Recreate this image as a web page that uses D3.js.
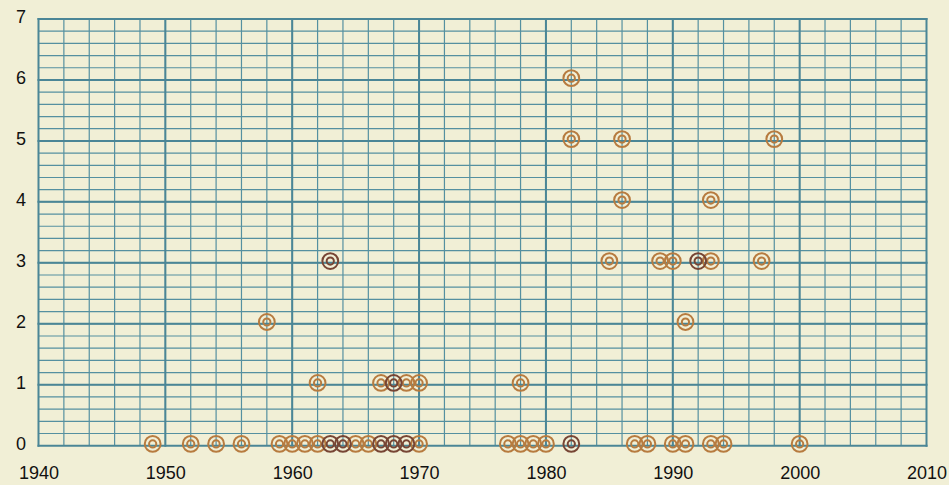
<!DOCTYPE html>
<html>
<head>
<meta charset="utf-8">
<script src="https://cdn.jsdelivr.net/npm/d3@7"></script>
<style>
  html, body { margin: 0; padding: 0; background: #f1efd6; }
  svg { display: block; }
  .tick text { font-family: "Liberation Sans", Arial, sans-serif; font-size: 18px; fill: #111; }
</style>
</head>
<body>
<div id="chart-container"></div>
<script>
// points (year, count); "dark" ones are where two events coincide
var years  = [1949, 1952, 1954, 1956, 1959, 1960, 1961, 1962, 1965, 1966, 1970, 1977, 1978, 1979, 1980, 1987, 1988, 1990, 1991, 1993, 1994, 2000,
              1962, 1967, 1969, 1970, 1978,
              1958, 1991,
              1985, 1989, 1990, 1993, 1997,
              1986, 1993,
              1982, 1986, 1998,
              1982];
var counts = [0, 0, 0, 0, 0, 0, 0, 0, 0, 0, 0, 0, 0, 0, 0, 0, 0, 0, 0, 0, 0, 0,
              1, 1, 1, 1, 1,
              2, 2,
              3, 3, 3, 3, 3,
              4, 4,
              5, 5, 5,
              6];
var darkYears  = [1963, 1964, 1967, 1968, 1969, 1982, 1968, 1963, 1992];
var darkCounts = [0, 0, 0, 0, 0, 0, 1, 3, 3];

var xTickLabels = [1940, 1950, 1960, 1970, 1980, 1990, 2000, 2010];
var yTickLabels = [0, 1, 2, 3, 4, 5, 6, 7];

(function () {
    var width = 949, height = 485;

    var x = d3.scaleLinear()
        .domain([1940, 2010])
        .range([38.5, 926.5]);

    var y = d3.scaleLinear()
        .domain([0, 7])
        .range([445.7, 19]);

    var svg = d3.select('#chart-container')
        .append('svg')
            .attr('width', width)
            .attr('height', height);

    svg.append('rect')
        .attr('width', width)
        .attr('height', height)
        .attr('fill', '#f1efd6');

    var grid = svg.append('g').attr('class', 'grid');

    // minor grid
    grid.selectAll('line.vminor')
        .data(d3.range(1942, 2010, 2))
        .enter().append('line')
            .attr('class', 'vminor')
            .attr('x1', function (d) { return x(d); })
            .attr('x2', function (d) { return x(d); })
            .attr('y1', y(0))
            .attr('y2', y(7))
            .attr('stroke', '#5590a0')
            .attr('stroke-width', 1.2);

    grid.selectAll('line.hminor')
        .data(d3.range(1, 35).map(function (i) { return i / 5; }))
        .enter().append('line')
            .attr('class', 'hminor')
            .attr('x1', x(1940))
            .attr('x2', x(2010))
            .attr('y1', function (d) { return y(d); })
            .attr('y2', function (d) { return y(d); })
            .attr('stroke', '#5590a0')
            .attr('stroke-width', 1.2);

    // major grid
    grid.selectAll('line.vmajor')
        .data(xTickLabels)
        .enter().append('line')
            .attr('class', 'vmajor')
            .attr('x1', function (d) { return x(d); })
            .attr('x2', function (d) { return x(d); })
            .attr('y1', y(0) + 1)
            .attr('y2', y(7) - 1)
            .attr('stroke', '#4b8696')
            .attr('stroke-width', 2);

    grid.selectAll('line.hmajor')
        .data(yTickLabels)
        .enter().append('line')
            .attr('class', 'hmajor')
            .attr('x1', x(1940) - 1)
            .attr('x2', x(2010) + 1)
            .attr('y1', function (d) { return y(d); })
            .attr('y2', function (d) { return y(d); })
            .attr('stroke', '#4b8696')
            .attr('stroke-width', 2);

    // axes (labels only)
    var xAxis = d3.axisBottom(x)
        .tickValues(xTickLabels)
        .tickFormat(d3.format('d'))
        .tickSize(0)
        .tickPadding(20.5);

    var yAxis = d3.axisLeft(y)
        .tickValues(yTickLabels)
        .tickFormat(d3.format('d'))
        .tickSize(0)
        .tickPadding(12.5);

    svg.append('g')
        .attr('class', 'x axis')
        .attr('transform', 'translate(0,' + y(0) + ')')
        .call(xAxis)
        .call(function (g) { g.select('.domain').remove(); });

    svg.append('g')
        .attr('class', 'y axis')
        .attr('transform', 'translate(' + x(1940) + ',0)')
        .call(yAxis)
        .call(function (g) { g.select('.domain').remove(); })
        .selectAll('text').attr('dy', '0.22em');

    // markers
    var pts = years.map(function (d, i) { return { year: d, count: counts[i], dark: false }; })
        .concat(darkYears.map(function (d, i) { return { year: d, count: darkCounts[i], dark: true }; }));

    var marks = svg.append('g').attr('class', 'marks')
        .selectAll('g')
        .data(pts)
        .enter().append('g')
            .attr('transform', function (d) { return 'translate(' + x(d.year) + ',' + (y(d.count) - 1.8) + ')'; });

    marks.append('circle')
        .attr('r', 7.9)
        .attr('fill', 'none')
        .attr('stroke', function (d) { return d.dark ? '#774534' : '#b77b3f'; })
        .attr('stroke-width', 2);

    marks.append('circle')
        .attr('r', 3.6)
        .attr('fill', 'none')
        .attr('stroke', function (d) { return d.dark ? '#774534' : '#b77b3f'; })
        .attr('stroke-width', 2);
})();
</script>
</body>
</html>
